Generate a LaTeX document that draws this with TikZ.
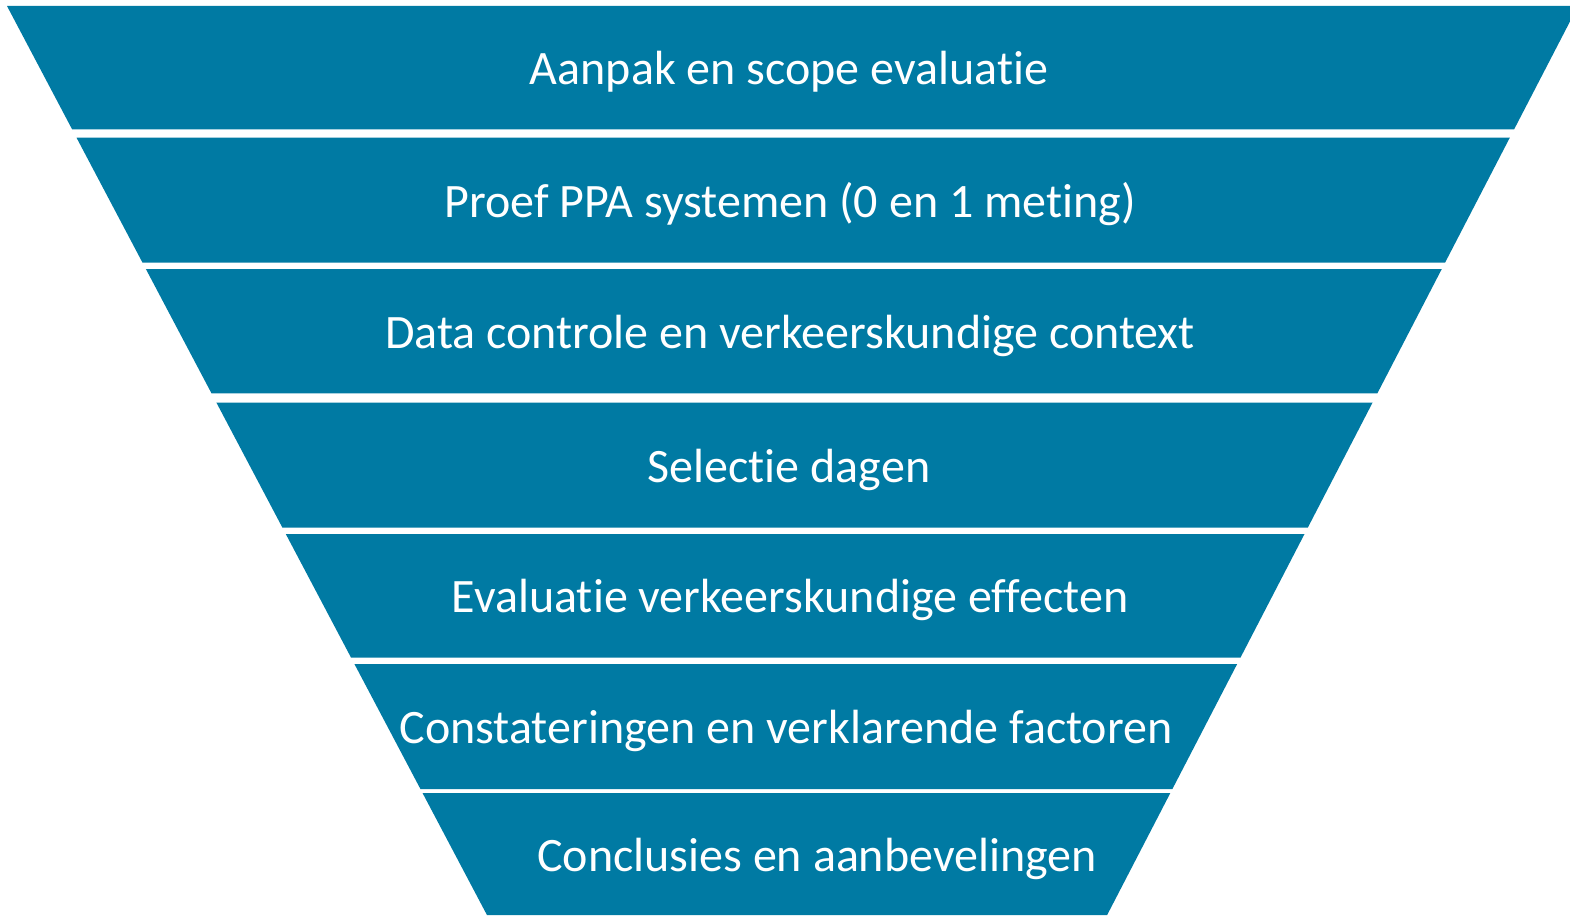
\documentclass[tikz,border=0pt]{standalone}
\usepackage{fontspec}
\newfontfamily\funnelfont[Ligatures=NoCommon]{Carlito}
\definecolor{funnelblue}{RGB}{0,122,163}
\tikzset{
  band/.style={fill=funnelblue},
  bandtext/.style={text=white,anchor=base,font=\funnelfont\fontsize{48}{58}\selectfont}
}
\begin{document}
\begin{tikzpicture}[x=1pt,y=-1pt]
\clip (0,0) rectangle (1570,915);
% funnel sides: left x = 7+0.528(y-6), right x = 1578-0.518(y-6)
\foreach \ya/\yb in {6/129.3, 137.7/262.7, 269/393.3, 402.7/527.7, 534/657.7, 664/789, 793/915}{
  \fill[band] ({7+0.528*(\ya-6)},\ya) -- ({1578-0.518*(\ya-6)},\ya)
    -- ({1578-0.518*(\yb-6)},\yb) -- ({7+0.528*(\yb-6)},\yb) -- cycle;
}

\node[bandtext] (aanpak) at (789,85) {Aanpak en scope evaluatie};
\node[bandtext] (proef) at (790,217) {Proef PPA systemen (0 en 1 meting)};
\node[bandtext] (data) at (790,348) {Data controle en verkeerskundige context};
\node[bandtext] (selectie) at (789,482) {Selectie dagen};
\node[bandtext] (evaluatie) at (790,612) {Evaluatie verkeerskundige effecten};
\node[bandtext] (constat) at (786,743) {Constateringen en verklarende factoren};
\node[bandtext] (concl) at (817,871) {Conclusies en aanbevelingen};
\end{tikzpicture}
\end{document}
